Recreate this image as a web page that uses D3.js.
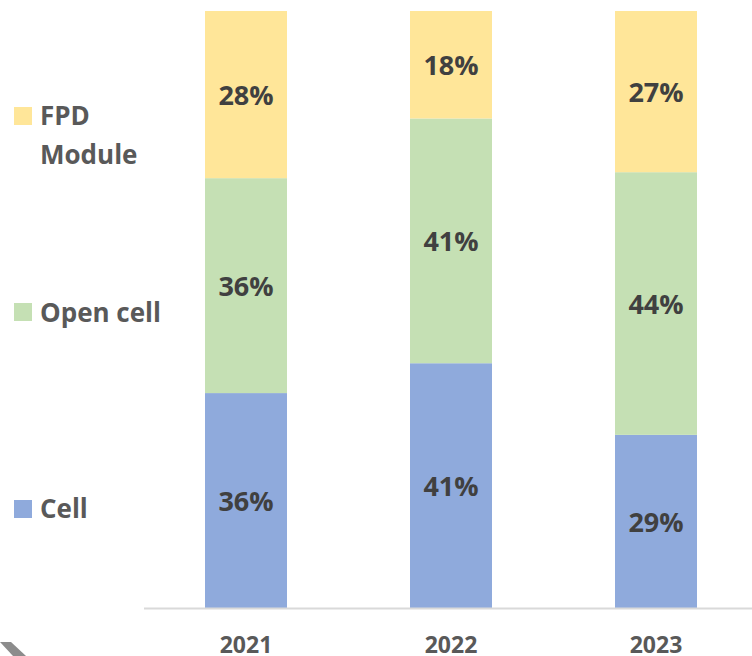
<!DOCTYPE html>
<html><head><meta charset="utf-8">
<script src="https://cdn.jsdelivr.net/npm/d3@7/dist/d3.min.js"></script>
<style>html,body{margin:0;padding:0;background:#fff;}svg{display:block;}</style>
</head><body>
<svg id="chart" width="752" height="656"></svg>
<script>
const years = ["2021", "2022", "2023"];
const seriesNames = ["Cell", "Open cell", "FPD Module"];
const cellValues = [36, 41, 29];
const openCellValues = [36, 41, 44];
const fpdModuleValues = [28, 18, 27];
const colors = ["#8FAADC", "#C5E0B4", "#FFE699"];

const FONT = "'Open Sans', Lato, sans-serif";
const svg = d3.select("#chart");
const plotTop = 11, plotBottom = 608;

const rows = years.map((yr, i) => ({year: yr, Cell: cellValues[i], "Open cell": openCellValues[i], "FPD Module": fpdModuleValues[i]}));
const stack = d3.stack().keys(seriesNames)(rows);

const x = d3.scaleBand().domain(years).range([143.5, 758.5]).paddingInner(0.6).paddingOuter(0.3);
const y = d3.scaleLinear().domain([0, 100]).range([plotBottom, plotTop]);

const g = svg.append("g");
stack.forEach((layer, li) => {
  const lg = g.append("g");
  lg.selectAll("rect").data(layer).enter().append("rect")
    .attr("x", d => x(d.data.year))
    .attr("width", x.bandwidth())
    .attr("y", d => y(d[1]))
    .attr("height", d => y(d[0]) - y(d[1]))
    .attr("fill", colors[li]);
  lg.selectAll("text").data(layer).enter().append("text")
    .attr("x", d => x(d.data.year) + x.bandwidth() / 2)
    .attr("y", d => (y(d[0]) + y(d[1])) / 2)
    .attr("dy", "0.38em")
    .attr("text-anchor", "middle")
    .attr("font-family", FONT)
    .attr("font-weight", 700)
    .attr("font-size", 27)
    .attr("fill", "#404040")
    .text(d => (d[1] - d[0]) + "%");
});

// x axis
const xAxis = d3.axisBottom(x).tickSize(0);
const ax = svg.append("g").attr("transform", `translate(0,${plotBottom + 0.5})`).call(xAxis);
ax.select(".domain").attr("stroke", "#d9d9d9").attr("stroke-width", 2).attr("d", `M144,0H752`);
ax.selectAll("text")
  .attr("font-family", FONT)
  .attr("font-weight", 700)
  .attr("font-size", 23)
  .attr("fill", "#595959")
  .attr("dy", "0")
  .attr("y", 44);

// legend
const legend = [
  {name: "FPD Module", lines: ["FPD", "Module"], color: colors[2], sq: 107, base: 125},
  {name: "Open cell", lines: ["Open cell"], color: colors[1], sq: 303, base: 322},
  {name: "Cell", lines: ["Cell"], color: colors[0], sq: 500, base: 518}
];
const lgd = svg.append("g");
legend.forEach(l => {
  lgd.append("rect").attr("x", 14).attr("y", l.sq).attr("width", 18).attr("height", 18).attr("fill", l.color);
  const t = lgd.append("text")
    .attr("font-family", FONT)
    .attr("font-weight", 700)
    .attr("font-size", 26)
    .attr("fill", "#595959");
  l.lines.forEach((ln, i) => {
    t.append("tspan").attr("x", 40).attr("y", l.base + i * 39).text(ln);
  });
});

// decorative chevron at bottom-left
svg.append("polygon").attr("points", "0,642 11,642 26,656 13,656").attr("fill", "#8c8c8c");
</script>
</body></html>
